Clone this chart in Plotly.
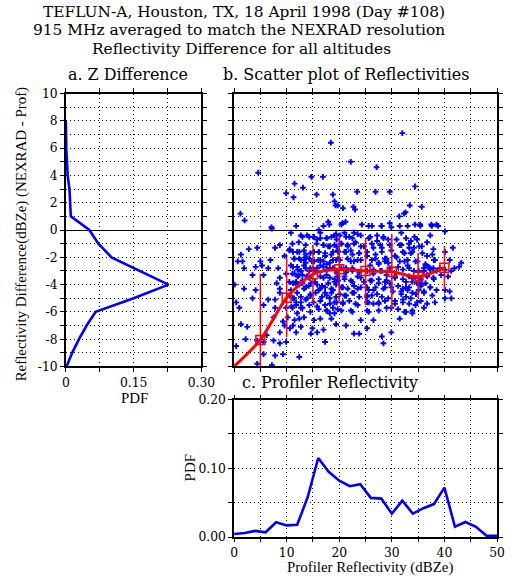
import plotly.graph_objects as go

# ---------------- data ----------------
# Panel a: PDF of reflectivity difference
diff_levels = [-10, -9, -8, -7, -6, -5, -4, -3, -2, -1, 0, 1, 2, 3, 4, 5, 6, 7, 8]
diff_pdf = [0.0015, 0.014, 0.029, 0.046, 0.066, 0.150, 0.227, 0.164, 0.101, 0.072,
            0.052, 0.011, 0.010, 0.008, 0.004, 0.002, 0.001, 0.0005, 0.0]

# Panel b: scatter (profiler reflectivity, NEXRAD - profiler)
scatter_pts = [
    # above zero
    (1.2, 1.2), (2.0, 0.7), (4.6, 4.2), (9.9, 2.7), (11.3, 2.4), (11.5, 3.4), (13.1, 3.1),
    (14.7, 3.9), (16.9, 3.9), (15.7, 2.6), (18.4, 6.4), (18.8, 2.6), (19.1, 2.1), (19.7, 1.8),
    (19.3, 1.8), (20.7, 1.6), (22.2, 5.0), (23.4, 2.8), (22.7, 1.7), (23.0, 1.5), (21.2, 0.6),
    (20.6, 0.5), (17.9, 0.6), (18.1, 0.4), (27.1, 4.6), (26.9, 2.8), (29.6, 2.8), (32.0, 7.1),
    (31.4, 1.0), (32.3, 1.2), (32.6, 1.3), (33.4, 1.8), (34.4, 3.2), (35.7, 1.7), (34.4, 0.4),
    (35.4, 0.4), (37.5, 0.4), (38.8, 0.3), (29.6, 0.5), (28.0, 0.3), (26.2, 0.3), (24.3, 0.4),
    (7.1, 0.2),
    # x 0-17
    (7.2, 0.1), (11.8, 0.3), (16.1, 0.0),
    (13.0, -0.5), (14.3, -0.5), (15.2, -0.5), (15.8, -0.7), (16.4, -0.6),
    (2.8, -1.4), (1.3, -1.8), (4.4, -1.3), (7.8, -1.3), (8.7, -1.1), (10.6, -1.4), (11.2, -1.6),
    (12.4, -1.6), (13.6, -1.8), (15.2, -1.6), (16.1, -1.6),
    (0.7, -2.3), (1.6, -2.3), (5.0, -2.3), (5.3, -2.6), (6.9, -2.2), (9.6, -1.9), (11.5, -2.1),
    (12.4, -2.1), (13.3, -2.2), (13.6, -2.4), (14.3, -2.1), (15.2, -2.3), (16.0, -2.2), (16.4, -2.6),
    (1.9, -2.8), (4.1, -2.7), (6.5, -2.8), (8.4, -2.8), (11.2, -2.7), (12.1, -2.9), (12.7, -3.0),
    (13.6, -2.8), (14.3, -3.0), (15.2, -2.9), (15.8, -2.8),
    (3.5, -3.3), (5.6, -3.3), (8.7, -3.5), (9.9, -3.2), (11.5, -3.2), (12.1, -3.4), (13.0, -3.3),
    (14.0, -3.4), (14.3, -3.5),
    (0.1, -4.0), (1.9, -4.3), (4.1, -4.4), (8.1, -3.9), (8.7, -4.3), (11.2, -3.9), (11.8, -3.8),
    (12.4, -4.0), (13.0, -3.9), (13.6, -4.2), (14.6, -3.9), (15.8, -4.0), (16.4, -4.3),
    (0.4, -5.3), (3.5, -5.0), (6.5, -5.1), (7.8, -5.1), (8.7, -4.6), (10.6, -4.8), (11.2, -5.0),
    (11.8, -5.3), (12.7, -4.9), (13.6, -5.1), (14.6, -4.8), (15.5, -4.6), (16.7, -4.9),
    (1.0, -5.7), (5.6, -5.5), (7.8, -5.7), (9.9, -5.7), (10.9, -5.6), (11.8, -5.5), (12.7, -5.7),
    (14.3, -5.5), (15.8, -5.6),
    (7.5, -6.4), (9.3, -6.7), (10.2, -6.4), (11.5, -6.6), (12.4, -6.5), (13.3, -6.4), (15.2, -6.6),
    (16.4, -6.5),
    (1.3, -6.9), (2.5, -7.1), (9.6, -7.0), (10.6, -7.2), (11.2, -7.0), (12.7, -7.1), (14.9, -7.2),
    (15.8, -7.5),
    (0.4, -8.5), (6.2, -7.7), (8.7, -7.5), (11.8, -7.5), (14.6, -7.6),
    (2.2, -8.0), (4.4, -8.1), (5.6, -8.2), (7.5, -8.1), (9.9, -8.2),
    (5.6, -9.1), (7.8, -9.2), (8.7, -8.3), (9.3, -9.1), (12.4, -9.3),
    (7.2, -9.9), (4.4, -9.8),
    # x 17-34
    (17.0, 0.3), (20.4, 0.4), (25.6, 0.3), (28.1, 0.3), (29.9, 0.2), (31.5, 0.3), (33.0, 0.3),
    (17.6, -0.6), (18.5, -0.5), (19.4, -0.3), (21.3, -0.5), (22.5, -0.6), (23.5, -0.3), (25.9, -0.5),
    (27.2, -0.8), (28.4, -0.6), (30.9, -0.7), (32.7, -0.6), (33.6, -0.8),
    (17.0, -1.1), (17.9, -1.2), (19.1, -1.1), (20.4, -1.0), (21.6, -1.2), (22.8, -1.0), (24.1, -1.2),
    (26.5, -1.3), (28.1, -1.3), (29.6, -1.1), (31.8, -1.1), (33.3, -1.3),
    (17.3, -1.7), (18.5, -1.8), (19.8, -1.6), (21.3, -1.6), (22.5, -1.8), (23.8, -1.7), (25.3, -1.9),
    (26.9, -2.1), (28.7, -2.1), (30.6, -1.9), (32.4, -1.7), (33.6, -1.7),
    (17.0, -2.3), (18.2, -2.4), (19.4, -2.2), (22.2, -2.3), (23.5, -2.2), (25.9, -2.6), (27.5, -2.4),
    (29.3, -2.4), (31.5, -2.3), (33.0, -2.2),
    (17.6, -2.9), (18.8, -2.8), (21.3, -2.8), (22.5, -3.0), (26.5, -2.9), (28.1, -3.0), (32.1, -2.9),
    (33.3, -2.8),
    (17.0, -3.5), (18.2, -3.5), (19.8, -3.7), (21.0, -3.4), (22.5, -3.8), (24.1, -3.5), (25.9, -3.7),
    (27.5, -3.9), (29.0, -3.7), (30.6, -3.5), (32.7, -3.8), (33.9, -3.5),
    (17.3, -4.2), (18.5, -4.3), (19.4, -4.0), (20.7, -4.2), (23.5, -4.3), (25.3, -4.2), (26.5, -4.4),
    (28.7, -4.2), (29.9, -4.2), (32.1, -4.3), (33.3, -4.2),
    (17.6, -4.8), (18.5, -4.6), (19.4, -4.9), (21.0, -4.8), (22.8, -4.6), (25.3, -4.9), (26.2, -4.8),
    (28.1, -4.9), (31.8, -4.5), (32.7, -4.9), (33.9, -4.6),
    (17.3, -5.5), (18.2, -5.4), (19.1, -5.3), (20.7, -5.4), (23.5, -5.5), (25.6, -5.3), (26.5, -5.4),
    (27.5, -5.3), (30.6, -5.4), (32.1, -5.1), (33.3, -5.4),
    (17.6, -5.9), (19.1, -6.1), (20.4, -5.9), (22.5, -6.0), (25.3, -5.9), (29.0, -5.7), (32.7, -6.0),
    (18.5, -6.5), (19.4, -6.9), (21.3, -7.0), (24.1, -6.6), (26.5, -6.6), (31.5, -6.5),
    (17.0, -7.3), (22.8, -7.6), (23.8, -7.6), (25.3, -7.2), (28.1, -7.8),
    (17.3, -8.2), (28.4, -8.3), (29.9, -7.5),
    # x 34-43
    (35.4, 0.3), (37.6, 0.3), (38.5, 0.4), (40.1, -0.1),
    (34.8, -0.7), (35.7, -1.2),
    (34.2, -1.3), (37.9, -1.4), (40.1, -1.6), (41.6, -1.3),
    (36.7, -1.9), (38.2, -2.2), (41.0, -2.2), (43.2, -2.4), (42.8, -2.7), (41.9, -2.8),
    (34.5, -2.3), (36.4, -2.6), (37.0, -2.7),
    (34.2, -3.0), (35.1, -3.0), (36.1, -2.8), (37.3, -2.9), (37.9, -2.8), (38.5, -3.0), (39.1, -2.8),
    (40.1, -2.9), (41.3, -3.0),
    (34.5, -3.5), (35.4, -3.7), (36.7, -3.4), (37.9, -3.5), (39.4, -3.3), (40.7, -3.4),
    (34.8, -3.9), (35.7, -4.0), (36.4, -3.9), (37.3, -4.2), (38.5, -4.4), (40.1, -4.4), (41.0, -4.5),
    (35.1, -4.4), (36.1, -4.6), (38.2, -5.3), (40.1, -5.0), (41.3, -5.0),
    (34.8, -5.3), (34.5, -5.5), (33.9, -6.1),
    # dense core, x 10-20
    (10.8, -0.2), (12.7, -0.4), (13.9, -0.4), (15.1, -0.5), (16.4, -0.2), (17.6, -0.6), (19.1, -0.4),
    (19.5, -0.7), (11.1, -1.0), (12.3, -0.9), (13.6, -1.1), (15.7, -1.0), (17.0, -1.1), (18.2, -1.2),
    (19.5, -1.2), (10.5, -1.5), (12.0, -1.6), (13.3, -1.5), (14.5, -1.7), (16.1, -1.6), (17.3, -1.9),
    (18.8, -1.6), (11.4, -2.1), (12.7, -2.2), (13.6, -2.0), (14.8, -2.3), (16.4, -2.2), (17.6, -2.5),
    (18.8, -2.2), (19.8, -2.1), (10.8, -2.6), (12.0, -2.7), (13.3, -2.6), (14.5, -2.8), (15.7, -3.0),
    (17.0, -2.7), (18.2, -2.8), (19.5, -3.1), (11.1, -3.2), (12.3, -3.3), (13.9, -3.4), (16.4, -3.4),
    (17.6, -3.3), (19.1, -3.6), (10.5, -3.8), (11.7, -3.9), (13.0, -3.7), (14.2, -4.1), (15.4, -3.8),
    (16.7, -4.1), (17.9, -3.9), (19.1, -3.8), (10.8, -4.4), (12.0, -4.6), (13.3, -4.3), (14.5, -4.7),
    (16.1, -4.4), (17.3, -4.6), (18.8, -4.4), (11.4, -5.0), (12.7, -5.3), (13.9, -5.0), (15.1, -5.3),
    (16.4, -5.2), (18.2, -5.0), (19.5, -5.3), (11.1, -5.7), (13.0, -5.7), (16.1, -5.8), (17.6, -5.9),
    (18.8, -5.7), (12.0, -6.1), (14.5, -6.0), (18.2, -6.1),
    # dense core, x 20-29
    (20.1, -0.4), (21.0, -0.2), (21.9, -0.5), (22.8, -0.2), (24.1, -0.4), (25.6, -0.6), (27.2, -0.4),
    (28.4, -0.5), (20.4, -1.0), (21.6, -1.1), (23.1, -0.9), (24.7, -1.2), (26.2, -1.0), (27.8, -1.1),
    (19.7, -1.5), (21.0, -1.6), (22.2, -1.5), (23.8, -1.7), (25.3, -1.6), (26.9, -1.8), (28.1, -1.6),
    (20.1, -2.2), (21.6, -2.1), (22.8, -2.3), (24.1, -2.2), (26.2, -2.2), (27.5, -2.5), (28.7, -2.3),
    (20.4, -2.8), (21.3, -3.1), (22.5, -2.8), (23.8, -3.1), (25.3, -3.0), (26.5, -3.2), (27.8, -3.0),
    (19.7, -3.4), (21.0, -3.6), (22.2, -3.7), (23.5, -3.4), (24.7, -3.8), (26.2, -3.7), (27.5, -3.6),
    (28.7, -3.8), (20.4, -4.2), (21.6, -4.3), (22.8, -4.1), (24.1, -4.2), (25.6, -4.4), (26.9, -4.2),
    (28.4, -4.3), (20.1, -4.7), (21.3, -4.8), (22.5, -4.6), (23.8, -4.9), (25.3, -4.8), (27.2, -4.7),
    (20.7, -5.3), (21.9, -5.2), (23.1, -5.4), (25.3, -5.3), (27.5, -5.4), (28.7, -5.2),
    (19.7, -5.8), (22.2, -5.9), (25.6, -6.0), (27.5, -5.9),
    # dense core, x 29-38
    (31.8, -0.2), (34.3, -0.5), (37.3, -0.4), (29.3, -0.7), (31.5, -1.1), (33.3, -1.0), (35.2, -1.2),
    (36.7, -0.9), (29.9, -1.5), (32.1, -1.6), (33.9, -1.6), (35.8, -1.7), (37.7, -1.8),
    (29.0, -2.1), (30.9, -2.0), (32.4, -2.3), (34.9, -2.3), (36.4, -2.5), (38.0, -2.2),
    (29.6, -2.8), (31.2, -2.7), (33.0, -2.6), (36.1, -3.0), (37.3, -2.8),
    (29.0, -3.3), (30.6, -3.4), (32.1, -3.6), (33.3, -3.4), (35.5, -3.6), (36.7, -3.3), (38.0, -3.6),
    (29.6, -3.9), (31.2, -4.1), (32.7, -4.2), (33.9, -3.8), (35.5, -4.1), (37.3, -4.2),
    (30.2, -4.5), (31.8, -4.7), (33.0, -4.4), (34.6, -4.7), (36.1, -4.5), (37.7, -4.8),
    (29.3, -5.0), (30.6, -5.2), (32.1, -5.3), (33.6, -5.0), (35.5, -5.2), (36.7, -5.4),
    (29.9, -5.7), (31.2, -5.8), (32.4, -6.0), (33.9, -5.9), (36.1, -5.7),
]
scatter_x = [p[0] for p in scatter_pts]
scatter_y = [p[1] for p in scatter_pts]

# Panel b: binned means with spread
bin_x = [5, 10, 15, 20, 25, 30, 35, 40]
bin_mean = [-8.05, -4.96, -3.24, -2.88, -3.0, -3.06, -3.43, -2.76]
bin_err_plus = [4.85, 2.9, 2.16, 2.43, 2.4, 2.73, 1.74, 1.58]
bin_err_minus = [2.5, 2.88, 2.21, 2.48, 2.5, 2.68, 1.56, 1.62]
curve_x = [0, 5, 10, 15, 20, 25, 30, 35, 40]
curve_y = [-10.0, -8.05, -4.96, -3.24, -2.88, -3.0, -3.06, -3.43, -2.76]

# Panel c: PDF of profiler reflectivity
prof_dbz = [0, 2, 4, 6, 8, 10, 12, 14, 16, 18, 20, 22, 24, 26, 28, 30, 32, 34, 36, 38, 40,
            42, 44, 46, 48, 50]
prof_pdf = [0.0044, 0.006, 0.009, 0.007, 0.0215, 0.017, 0.018, 0.058, 0.115, 0.095, 0.082,
            0.074, 0.077, 0.057, 0.056, 0.034, 0.053, 0.034, 0.042, 0.048, 0.072, 0.015,
            0.022, 0.015, 0.002, 0.002]

a_y_ticks = list(range(-10, 11))
a_y_labels = [str(v) if v % 2 == 0 else "" for v in a_y_ticks]
a_x_ticks = [0, 0.075, 0.15, 0.225, 0.30]
a_x_labels = ["0", "", "0.15", "", "0.30"]
c_x_ticks = list(range(0, 51, 5))
c_x_labels = [str(v) if v % 10 == 0 else "" for v in c_x_ticks]
c_y_ticks = [0, 0.05, 0.10, 0.15, 0.20]
c_y_labels = ["0.00", "", "0.10", "", "0.20"]

# ---------------- layout helpers ----------------
W, H = 512, 580
# the captured page appears slightly shrunk/offset; positions below are given in
# picture pixels and mapped back to paper fractions
SX, OX = 0.975, 2.5
SY, OY = 0.9725, 7.75
TITLE_FONT = "DejaVu Serif"
TEXT_FONT = "Liberation Serif"


def fx(p):
    return min(max(((p - OX) / SX) / W, 0.0), 0.998)


def fy(p):
    return min(max(1 - ((p - OY) / SY) / H, 0.0), 1.0)


def fs(size):
    return size / SY


BLUE = "#0000ff"
RED = "#ff0000"

fig = go.Figure()

fig.add_trace(go.Scatter(x=diff_pdf, y=diff_levels, mode="lines",
                         line=dict(color=BLUE, width=2.6), xaxis="x", yaxis="y",
                         showlegend=False, hoverinfo="skip"))

fig.add_trace(go.Scatter(x=scatter_x, y=scatter_y, mode="markers",
                         marker=dict(symbol="cross", size=4.8, color=BLUE, line=dict(width=0)),
                         xaxis="x2", yaxis="y2", showlegend=False, hoverinfo="skip"))
fig.add_trace(go.Scatter(x=curve_x, y=curve_y, mode="lines",
                         line=dict(color=RED, width=3, shape="spline", smoothing=0.7),
                         xaxis="x2", yaxis="y2", showlegend=False, hoverinfo="skip"))
fig.add_trace(go.Scatter(x=bin_x, y=bin_mean, mode="markers",
                         marker=dict(symbol="square-open", size=9, color=RED, line=dict(width=1.5)),
                         error_y=dict(type="data", symmetric=False, array=bin_err_plus,
                                      arrayminus=bin_err_minus, color=RED, thickness=1.5, width=0),
                         xaxis="x2", yaxis="y2", showlegend=False, hoverinfo="skip"))

fig.add_trace(go.Scatter(x=prof_dbz, y=prof_pdf, mode="lines",
                         line=dict(color=BLUE, width=2.6), xaxis="x3", yaxis="y3",
                         showlegend=False, hoverinfo="skip"))

common = dict(showline=True, linecolor="black", linewidth=1.5, mirror="allticks",
              ticks="outside", tickcolor="black", tickwidth=1,
              showgrid=True, gridcolor="black", gridwidth=1, griddash="1px,3px",
              tickfont=dict(family=TITLE_FONT, size=fs(12), color="black"))

ya_dom = [fy(366), fy(94)]
fig.update_layout(
    width=W, height=H, margin=dict(l=0, r=0, t=0, b=0),
    paper_bgcolor="white", plot_bgcolor="white",
    font=dict(family=TEXT_FONT, color="black"),
    xaxis=dict(domain=[fx(65), fx(202)], range=[0, 0.30], tickmode="array", ticklen=4,
               tickvals=a_x_ticks, ticktext=a_x_labels, zeroline=False, anchor="y", **common),
    yaxis=dict(domain=ya_dom, range=[-10, 10], tickmode="array", tickvals=a_y_ticks, ticklen=4,
               ticktext=a_y_labels, zeroline=True, zerolinecolor="black", zerolinewidth=1.2,
               anchor="x", **common),
    xaxis2=dict(domain=[fx(235), fx(506)], range=[0, 50], tickmode="array", ticklen=4,
                tickvals=c_x_ticks, showticklabels=False, zeroline=False, anchor="y2", **common),
    yaxis2=dict(domain=ya_dom, range=[-10, 10], tickmode="array", tickvals=a_y_ticks, ticklen=4,
                showticklabels=False, zeroline=True, zerolinecolor="black", zerolinewidth=1.2,
                anchor="x2", **common),
    xaxis3=dict(domain=[fx(235), fx(506)], range=[0, 50], tickmode="array", ticklen=3,
                tickvals=c_x_ticks, ticktext=c_x_labels, zeroline=False, anchor="y3", **common),
    yaxis3=dict(domain=[fy(536), fy(399)], range=[0, 0.20], tickmode="array", ticklen=4,
                tickvals=c_y_ticks, ticktext=c_y_labels, zeroline=False, anchor="x3", **common),
)


def label(text, x, y, size, family, angle=0):
    fig.add_annotation(text=text, x=fx(x), y=fy(y), xref="paper", yref="paper",
                       xanchor="center", yanchor="middle", showarrow=False, textangle=angle,
                       font=dict(family=family, size=fs(size), color="black"))


label("TEFLUN-A, Houston, TX, 18 April 1998 (Day #108)", 245, 12.5, 15, TITLE_FONT)
label("915 MHz averaged to match the NEXRAD resolution", 240, 31, 15, TITLE_FONT)
label("Reflectivity Difference for all altitudes", 243, 49.5, 15, TITLE_FONT)
label("a. Z Difference", 128, 75, 15.5, TITLE_FONT)
label("b. Scatter plot of Reflectivities", 348, 75, 15.5, TITLE_FONT)
label("c. Profiler Reflectivity", 332, 382, 15.5, TITLE_FONT)
label("Reflectivity Difference(dBZe) (NEXRAD - Prof)", 20, 234, 14.5, TEXT_FONT, -90)
label("PDF", 134, 397, 14.5, TEXT_FONT)
label("PDF", 190, 467, 14.5, TEXT_FONT, -90)
label("Profiler Reflectivity (dBZe)", 372, 566, 14.5, TEXT_FONT)

fig.write_html("out.html")
